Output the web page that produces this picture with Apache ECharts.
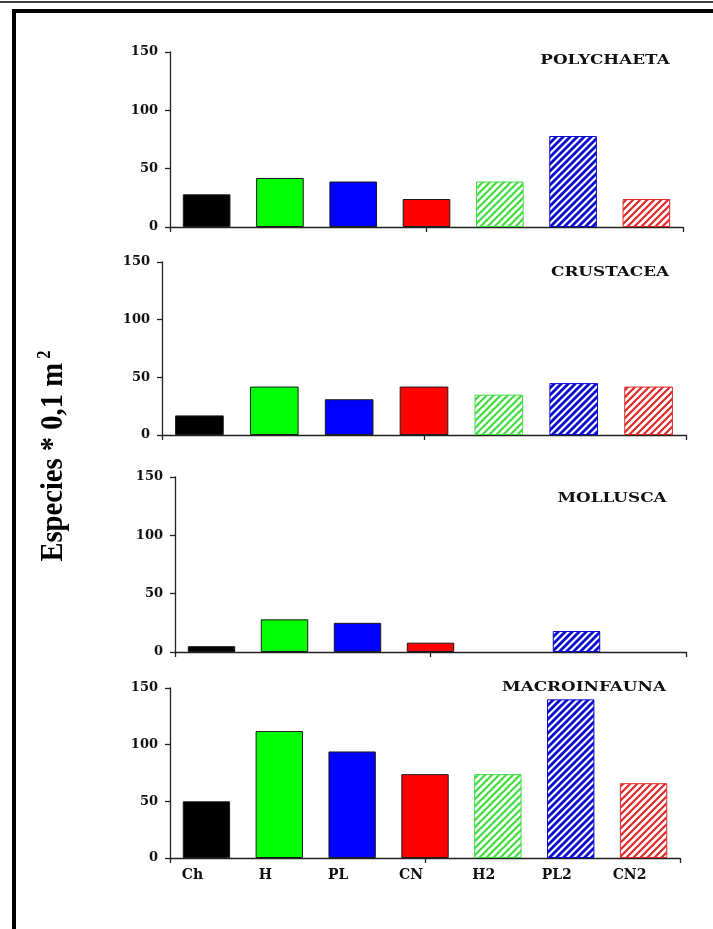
<!DOCTYPE html>
<html>
<head>
<meta charset="utf-8">
<script src="https://cdn.jsdelivr.net/npm/echarts@6/dist/echarts.min.js"></script>
<style>
html,body{margin:0;padding:0;background:#fff;}
#chart{width:713px;height:929px;}
</style>
</head>
<body>
<div id="chart"></div>
<script>
// ---- data ----
const categories = ['Ch', 'H', 'PL', 'CN', 'H2', 'PL2', 'CN2'];
const polychaeta = [28, 42, 39, 24, 39, 78, 24];
const crustacea = [17, 42, 31, 42, 35, 45, 42];
const mollusca = [5, 28, 25, 8, 0, 18, 0];
const macroinfauna = [50, 112, 94, 74, 74, 140, 66];
const panelTitles = ['POLYCHAETA', 'CRUSTACEA', 'MOLLUSCA', 'MACROINFAUNA'];
const yMin = 0, yMax = 150, yStep = 50;
const yAxisTitle = 'Especies * 0,1 m';
const yAxisTitleSup = '2';

// ---- styles ----
const barColors = ['#000000', '#00ff00', '#0000ff', '#ff0000', '#3fdc3f', '#0a0ad0', '#e02a2a'];
const hatched = [false, false, false, false, true, true, true];
const hatchWidth = [0, 0, 0, 0, 2.2, 2.8, 2.2];
const hatchTile = 7;

const panels = [polychaeta, crustacea, mollusca, macroinfauna];
const grids = [
  {left: 170, top: 52, width: 513, height: 175},
  {left: 162, top: 262, width: 524, height: 173},
  {left: 175, top: 477, width: 511, height: 175},
  {left: 170, top: 688, width: 510, height: 170}
];
const titlePos = [[605, 61], [610, 273], [612, 499], [584, 688]];

const serif = 'Liberation Serif';
const wideSerif = 'DejaVu Serif';

function hatchPattern(color, lw) {
  const n = hatchTile;
  const cv = document.createElement('canvas');
  cv.width = n; cv.height = n;
  const ctx = cv.getContext('2d');
  ctx.fillStyle = '#ffffff';
  ctx.fillRect(0, 0, n, n);
  ctx.strokeStyle = color;
  ctx.lineWidth = lw;
  ctx.lineCap = 'square';
  ctx.beginPath();
  ctx.moveTo(0, n); ctx.lineTo(n, 0);
  ctx.moveTo(-n, n); ctx.lineTo(n, -n);
  ctx.moveTo(0, 2 * n); ctx.lineTo(2 * n, 0);
  ctx.stroke();
  return {image: cv, repeat: 'repeat'};
}

function itemStyleFor(j, v) {
  const c = barColors[j];
  if (hatched[j]) {
    return {
      color: hatchPattern(c, hatchWidth[j]),
      borderColor: c,
      borderWidth: v === 0 ? 0 : 1
    };
  }
  return {
    color: c,
    borderColor: '#1a1a1a',
    borderWidth: v === 0 ? 0 : 1
  };
}

const xAxes = [], yAxes = [], series = [];
panels.forEach((vals, i) => {
  const last = i === panels.length - 1;
  xAxes.push({
    type: 'category',
    gridIndex: i,
    data: categories,
    position: 'bottom',
    axisLine: {show: false},
    axisTick: {show: false},
    axisLabel: {
      show: last,
      fontFamily: wideSerif,
      fontWeight: 'bold',
      fontSize: 14,
      color: '#111',
      margin: 10,
      padding: [0, 28, 0, 0]
    },
    splitLine: {show: false}
  });
  xAxes.push({
    type: 'value',
    gridIndex: i,
    min: 0,
    max: 7,
    interval: 3.5,
    position: 'bottom',
    axisLine: {show: true, onZero: false, lineStyle: {color: '#222', width: 1.3}},
    axisTick: {show: true, inside: false, length: 5, lineStyle: {color: '#222', width: 1.3}},
    axisLabel: {show: false},
    splitLine: {show: false}
  });
  yAxes.push({
    type: 'value',
    gridIndex: i,
    min: yMin,
    max: yMax,
    interval: yStep,
    axisLine: {show: true, lineStyle: {color: '#222', width: 1.3}},
    axisTick: {show: true, inside: false, length: 5, lineStyle: {color: '#222', width: 1.3}},
    axisLabel: {
      fontFamily: wideSerif,
      fontWeight: 'bold',
      fontSize: 13,
      color: '#111',
      margin: 12
    },
    splitLine: {show: false}
  });
  series.push({
    type: 'bar',
    xAxisIndex: 2 * i,
    yAxisIndex: i,
    barCategoryGap: '35%',
    data: vals.map((v, j) => ({value: v, itemStyle: itemStyleFor(j, v)}))
  });
});

const graphics = [
  {type: 'line', shape: {x1: 0, y1: 2, x2: 713, y2: 2}, style: {stroke: '#000', lineWidth: 1.5}},
  {type: 'rect', shape: {x: 14, y: 11, width: 740, height: 960}, style: {stroke: '#000', lineWidth: 4, fill: null}},
  {
    type: 'text',
    x: 54, y: 456,
    rotation: Math.PI / 2,
    scaleX: 1.1, scaleY: 1.2,
    style: {
      text: '{a|' + yAxisTitle + '}{s|' + yAxisTitleSup + '}',
      align: 'center',
      verticalAlign: 'middle',
      rich: {
        a: {fontFamily: serif, fontWeight: 'bold', fontSize: 26, fill: '#000', lineHeight: 30},
        s: {fontFamily: serif, fontWeight: 'bold', fontSize: 15, fill: '#000', verticalAlign: 'top', lineHeight: 30, padding: [0, 0, 0, 4]}
      }
    }
  }
];
panelTitles.forEach((t, i) => {
  graphics.push({
    type: 'text',
    x: titlePos[i][0], y: titlePos[i][1],
    scaleX: 1.4,
    style: {
      text: t,
      align: 'center',
      verticalAlign: 'middle',
      fontFamily: wideSerif,
      fontWeight: 'bold',
      fontSize: 12,
      fill: '#111'
    }
  });
});

const chart = echarts.init(document.getElementById('chart'), null, {renderer: 'canvas'});
chart.setOption({
  animation: false,
  backgroundColor: '#ffffff',
  grid: grids.map(g => Object.assign({containLabel: false}, g)),
  xAxis: xAxes,
  yAxis: yAxes,
  series: series,
  graphic: graphics
});
</script>
</body>
</html>
